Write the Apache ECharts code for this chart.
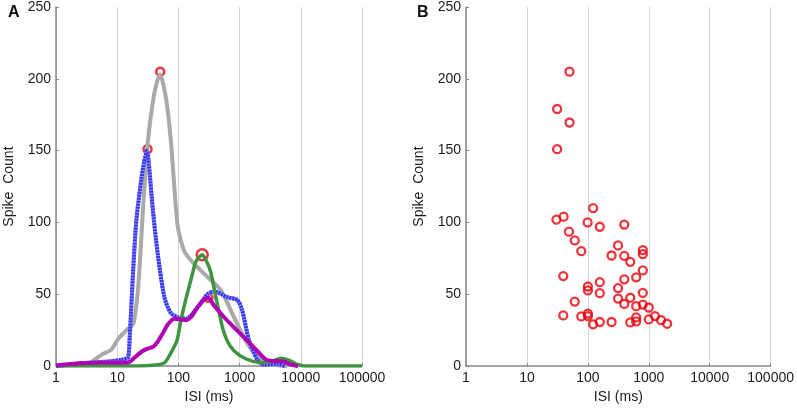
<!DOCTYPE html>
<html>
<head>
<meta charset="utf-8">
<script src="https://cdn.jsdelivr.net/npm/echarts@6/dist/echarts.min.js"></script>
<style>
    html, body { margin: 0; padding: 0; background: #fff; }
    #chart { width: 797px; height: 409px; }
</style>
</head>
<body>
<div id="chart"></div>
<script>
'use strict';

// panel A: ISI histograms (smoothed), x in ms, y in spike count
const grayISI = [1, 2, 3.4, 5.6, 8, 10.4, 15, 18.5, 22, 26.5, 31.5, 40.5, 50, 63, 76, 97, 125, 182, 300, 490, 810, 1330, 2190, 3600, 6000];
const grayCount = [0, 1, 2, 8, 11.5, 19, 26, 30, 55, 110, 155, 190, 203, 186, 155, 98, 80, 71, 62, 53, 34, 16, 4.6, 1, 0];

const blueISI = [1, 2, 3.4, 8, 12.3, 15, 16, 18.3, 20.6, 24.8, 27.5, 30.6, 33, 38.4, 46, 59, 75, 98, 135, 206, 300, 384, 630, 916, 1100, 1420, 1940, 2460, 4000, 5500];
const blueCount = [0, 1.5, 2.3, 3.4, 4.6, 6, 20, 68, 102, 130, 142, 150, 140, 108, 78, 48, 37, 34, 33, 41, 50, 52, 48, 46, 39, 18, 4.6, 1, 1.5, 0];

const greenISI = [1, 20, 46, 60, 75, 95, 110, 135, 160, 190, 220, 245, 280, 335, 400, 460, 540, 700, 1000, 1600, 2500, 3500, 4700, 6500, 9000, 12000, 100000];
const greenCount = [0, 0, 1, 2.5, 9, 18, 32, 48, 60, 72, 76, 77.5, 74, 66, 50, 38, 25, 14, 7.5, 3.5, 2.3, 3.5, 5.5, 4, 1, 0, 0];

const magentaISI = [1, 2.6, 5.6, 15, 19.3, 25, 32, 39, 46, 56, 67, 86, 110, 133, 160, 206, 260, 306, 384, 560, 810, 1250, 1900, 2700, 3800, 5200, 6700, 9000];
const magentaCount = [0.5, 2, 2.3, 2.5, 6, 10, 12.3, 13.5, 17, 23, 29, 33, 32.5, 32, 34, 41, 46, 47.5, 42, 34, 27, 19, 11, 4.5, 3.5, 3.2, 1.2, 0];

// peak markers of panel A
const peakISI = [50.5, 31.3, 310];
const peakCount = [205, 151, 47.5];
const greenPeakISI = [245];
const greenPeakCount = [77.5];

// panel B: peak ISI vs spike count per cell
const cellISI = [50, 31.3, 50, 31.3, 30.5, 40, 122, 99, 157, 396, 49, 61, 78, 313, 245, 396, 497, 798, 798, 798,
    621, 396, 39.5, 157, 100, 100, 157, 313, 313, 497, 798, 396, 621, 798, 1000, 61, 39.5, 78, 100, 100,
    122, 157, 245, 497, 621, 621, 1000, 1265, 1590, 2000];
const cellCount = [205, 179, 169.6, 151, 102, 104, 110, 100, 97, 98.5, 93.6, 87.5, 80, 84, 77, 76.7, 72.6, 80.8, 78, 66.6,
    61.8, 60.4, 62.7, 58.4, 55.4, 52.7, 50.8, 54.3, 47, 47.6, 51, 43.3, 41.7, 42.8, 40.8, 44.9, 35.3, 34.6, 36.6, 34.8,
    29.1, 30.7, 30.7, 30.4, 33.9, 31.1, 32.5, 34.8, 32, 29.5];

const xTicks = [1, 10, 100, 1000, 10000, 100000];
const yTicks = [0, 50, 100, 150, 200, 250];

const zip = (xs, ys) => xs.map((x, i) => [x, ys[i]]);

const FONT = 'Liberation Sans, Arial, sans-serif';
const TEXT = '#1a1a1a';
const AXIS_GRAY = '#878787';
const RED = '#e8000b';

function xAxisFor(gridIndex) {
    return {
        type: 'log',
        logBase: 10,
        gridIndex: gridIndex,
        min: xTicks[0],
        max: xTicks[xTicks.length - 1],
        splitNumber: 5,
        name: 'ISI (ms)',
        nameLocation: 'middle',
        nameGap: 22,
        nameTextStyle: { fontFamily: FONT, fontSize: 14, color: TEXT },
        axisLine: { lineStyle: { color: AXIS_GRAY, width: 1.5 } },
        axisTick: { inside: true, length: 3, lineStyle: { color: AXIS_GRAY } },
        axisLabel: {
            fontFamily: FONT, fontSize: 14, color: TEXT, margin: 5,
            formatter: v => String(Math.round(v))
        },
        splitLine: { show: true, lineStyle: { color: '#d6d6d6', width: 1 } }
    };
}

function yAxisFor(gridIndex) {
    return {
        type: 'value',
        gridIndex: gridIndex,
        min: yTicks[0],
        max: yTicks[yTicks.length - 1],
        interval: 50,
        name: 'Spike  Count',
        nameLocation: 'middle',
        nameGap: 40,
        nameTextStyle: { fontFamily: FONT, fontSize: 14, color: TEXT },
        axisLine: { show: true, lineStyle: { color: AXIS_GRAY, width: 1.5 } },
        axisTick: { show: true, inside: true, length: 3, lineStyle: { color: AXIS_GRAY } },
        axisLabel: { fontFamily: FONT, fontSize: 14, color: TEXT, margin: 5 },
        splitLine: { show: false }
    };
}

function curve(name, xs, ys, color, width, type) {
    return {
        name: name,
        type: 'line',
        xAxisIndex: 0,
        yAxisIndex: 0,
        data: zip(xs, ys),
        smooth: 0.25,
        showSymbol: false,
        lineStyle: { color: color, width: width, type: type || 'solid' }
    };
}

function rings(xAxisIndex, xs, ys, size, border) {
    return {
        type: 'scatter',
        xAxisIndex: xAxisIndex,
        yAxisIndex: xAxisIndex,
        data: zip(xs, ys),
        symbol: 'circle',
        symbolSize: size,
        itemStyle: { color: 'rgba(0,0,0,0)', borderColor: RED, borderWidth: border }
    };
}

const chart = echarts.init(document.getElementById('chart'), null, { renderer: 'canvas' });
chart.setOption({
    animation: false,
    backgroundColor: '#fff',
    title: [
        { text: 'A', left: 3, top: 0, textStyle: { fontFamily: FONT, fontSize: 16, fontWeight: 'bold', color: '#111' } },
        { text: 'B', left: 412, top: 0, textStyle: { fontFamily: FONT, fontSize: 16, fontWeight: 'bold', color: '#111' } }
    ],
    grid: [
        { left: 56, width: 306, top: 6, height: 364 },
        { left: 466, width: 306, top: 6, height: 364 }
    ],
    xAxis: [xAxisFor(0), xAxisFor(1)],
    yAxis: [yAxisFor(0), yAxisFor(1)],
    series: [
        curve('gray', grayISI, grayCount, '#a9a9a9', 4),
        curve('blue', blueISI, blueCount, '#9a9af8', 4),
        curve('blueHatch', blueISI, blueCount, '#3434ee', 4, [2, 1]),
        curve('green', greenISI, greenCount, '#3f953f', 3.5),
        curve('magenta', magentaISI, magentaCount, '#b000b4', 4),
        rings(0, peakISI, peakCount, 8, 2.5),
        rings(0, greenPeakISI, greenPeakCount, 11, 2.5),
        rings(1, cellISI, cellCount, 8, 2.3)
    ]
});
</script>
</body>
</html>
